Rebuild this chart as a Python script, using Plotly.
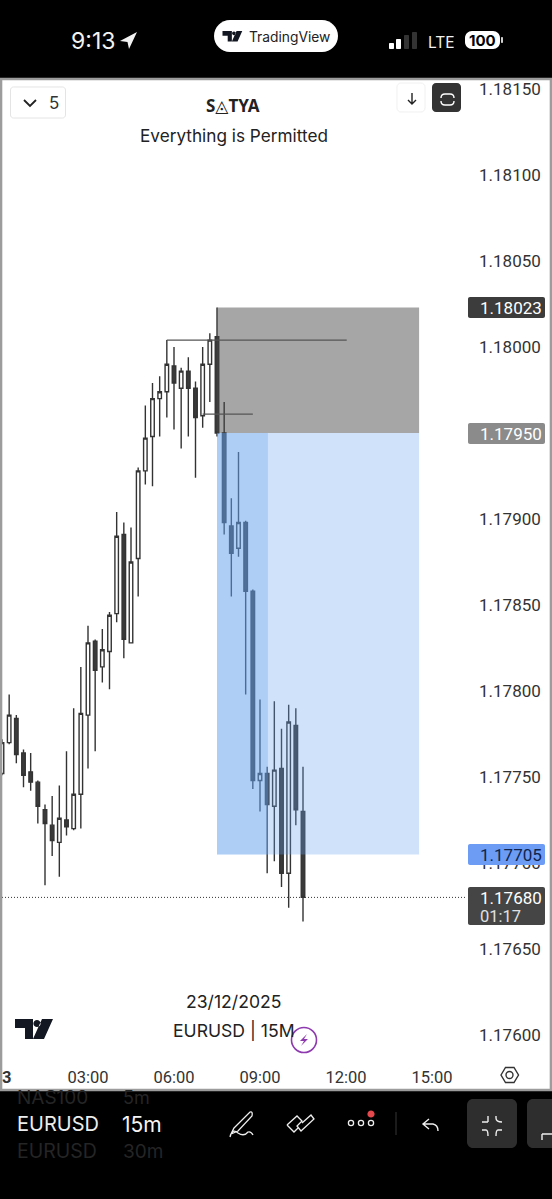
import re
import pandas as pd
import plotly.graph_objects as go

W, H = 552, 1199
# plot area in page pixels
L, R, T, B = 2, 466, 80, 1064

opens = [1.17752, 1.17770, 1.17784, 1.17764, 1.17753, 1.17747, 1.17731, 1.17722, 1.17712, 1.17725, 1.17720,
         1.17740, 1.17786, 1.17829, 1.17814, 1.17823, 1.17845, 1.17891, 1.17828, 1.17877, 1.17928, 1.17948,
         1.17970, 1.17974, 1.17989, 1.17976, 1.17986, 1.17976, 1.17960, 1.17990, 1.18006, 1.17950, 1.17896,
         1.17883, 1.17898, 1.17858, 1.17748, 1.17752, 1.17733, 1.17755, 1.17694, 1.17780, 1.17730]
highs = [1.17772, 1.17798, 1.17786, 1.17766, 1.17764, 1.17748, 1.17734, 1.17739, 1.17745, 1.17765, 1.17790,
         1.17814, 1.17838, 1.17830, 1.17836, 1.17846, 1.17904, 1.17898, 1.17895, 1.17930, 1.17966, 1.17979,
         1.17983, 1.18004, 1.18000, 1.17988, 1.17994, 1.17980, 1.18000, 1.18008, 1.18023, 1.17968, 1.17912,
         1.17939, 1.17899, 1.17859, 1.17795, 1.17756, 1.17794, 1.17778, 1.17792, 1.17790, 1.17756]
lows = [1.17751, 1.17769, 1.17758, 1.17744, 1.17742, 1.17723, 1.17687, 1.17704, 1.17692, 1.17716, 1.17719,
        1.17720, 1.17755, 1.17765, 1.17805, 1.17801, 1.17840, 1.17819, 1.17828, 1.17855, 1.17920, 1.17919,
        1.17948, 1.17959, 1.17952, 1.17941, 1.17948, 1.17924, 1.17953, 1.17968, 1.17948, 1.17891, 1.17855,
        1.17878, 1.17798, 1.17743, 1.17730, 1.17694, 1.17701, 1.17686, 1.17674, 1.17722, 1.17666]
closes = [1.17770, 1.17786, 1.17763, 1.17751, 1.17747, 1.17733, 1.17723, 1.17713, 1.17726, 1.17721, 1.17740,
          1.17787, 1.17828, 1.17812, 1.17824, 1.17844, 1.17890, 1.17830, 1.17875, 1.17928, 1.17947, 1.17970,
          1.17974, 1.17990, 1.17979, 1.17986, 1.17976, 1.17959, 1.17990, 1.18004, 1.17950, 1.17898, 1.17880,
          1.17898, 1.17858, 1.17748, 1.17752, 1.17734, 1.17754, 1.17694, 1.17782, 1.17731, 1.17680]

price_ticks = [1.18150, 1.18100, 1.18050, 1.18000, 1.17950, 1.17900, 1.17850, 1.17800, 1.17750, 1.17700, 1.17650, 1.17600]
time_ticks = ["2025-12-23 00:00", "2025-12-23 03:00", "2025-12-23 06:00", "2025-12-23 09:00", "2025-12-23 12:00", "2025-12-23 15:00"]
time_labels = ["<b>23</b>", "03:00", "06:00", "09:00", "12:00", "15:00"]

entry_price = 1.17950
stop_price = 1.18023
target_price = 1.17705
last_price = 1.17680

START = pd.Timestamp("2025-12-23 00:00")
BAR_PX = 86 / 12


def bar_time(n):
    return START + pd.Timedelta(minutes=15 * n)


bars = [bar_time(i) for i in range(len(opens))]
x_end = bar_time((R - L) / BAR_PX)
# 1.18000 sits at y=347 and 0.0005 is 86px
y_top = 1.18 + (347 - T) / 172000
y_bottom = 1.18 + (347 - B) / 172000


def pg(d):
    # svg path written in page pixels -> paper coords
    out = []
    is_x = True
    for tok in re.findall(r"[MLCQZ]|-?[\d.]+", d):
        if tok in "MLCQZ":
            out.append(tok)
            is_x = True
        else:
            v = float(tok)
            if is_x:
                out.append(f"{(v - L) / (R - L):.5f}")
            else:
                out.append(f"{(B - v) / (B - T):.5f}")
            is_x = not is_x
    return " ".join(out)


def rrect(x0, y0, x1, y1, r=0):
    k = r * 0.45
    return (f"M{x0 + r} {y0} L{x1 - r} {y0} C{x1 - k} {y0} {x1} {y0 + k} {x1} {y0 + r} "
            f"L{x1} {y1 - r} C{x1} {y1 - k} {x1 - k} {y1} {x1 - r} {y1} "
            f"L{x0 + r} {y1} C{x0 + k} {y1} {x0} {y1 - k} {x0} {y1 - r} "
            f"L{x0} {y0 + r} C{x0} {y0 + k} {x0 + k} {y0} {x0 + r} {y0} Z")


def circle(cx, cy, r):
    return rrect(cx - r, cy - r, cx + r, cy + r, r)


def tv_logo(x, y, s):
    return (f"M{x} {y} L{x + 18 * s} {y} L{x + 18 * s} {y + 20 * s} L{x + 10 * s} {y + 20 * s} "
            f"L{x + 10 * s} {y + 9 * s} L{x} {y + 9 * s} Z "
            f"M{x + 27 * s} {y} L{x + 38 * s} {y} L{x + 29 * s} {y + 20 * s} L{x + 18 * s} {y + 20 * s} Z "
            + circle(x + 22 * s, y + 4.5 * s, 3.6 * s))


fig = go.Figure(go.Candlestick(
    x=bars, open=opens, high=highs, low=lows, close=closes,
    increasing=dict(line=dict(color="#333333", width=1.4), fillcolor="#ffffff"),
    decreasing=dict(line=dict(color="#333333", width=1.4), fillcolor="#3a3a3a"),
    whiskerwidth=0,
    showlegend=False,
))


def ui(path, fill=None, line=None, width=1.5, layer="above"):
    fig.add_shape(type="path", path=pg(path), xref="paper", yref="paper", layer=layer,
                  fillcolor=fill if fill else "rgba(0,0,0,0)",
                  line=dict(color=line if line else "rgba(0,0,0,0)", width=width if line else 0))


def txt(x, y, text, size=16, color="#222222", anchor="center", family="Inter"):
    fig.add_annotation(x=(x - L) / (R - L), y=(B - y) / (B - T), xref="paper", yref="paper", text=text,
                       showarrow=False, xanchor=anchor, yanchor="middle", align="left",
                       font=dict(size=size, color=color, family=family), borderpad=0)


# chart panel
ui(rrect(1, 79, 551, 1090), fill="#ffffff", layer="below")

# position tool, over the candles
BLUE = "rgba(100,160,240,0.31)"
fig.add_shape(type="rect", x0=bar_time(30), x1=bar_time(58.2), y0=entry_price, y1=stop_price,
              fillcolor="rgba(70,70,70,0.48)", line_width=0, layer="above")
fig.add_shape(type="rect", x0=bar_time(30), x1=bar_time(58.2), y0=target_price, y1=entry_price,
              fillcolor=BLUE, line_width=0, layer="above")
fig.add_shape(type="rect", x0=bar_time(30), x1=bar_time(37.1), y0=target_price, y1=entry_price,
              fillcolor=BLUE, line_width=0, layer="above")

# drawn level lines and last price line
fig.add_shape(type="line", x0=bar_time(23), x1=bar_time(48.1), y0=1.18004, y1=1.18004,
              line=dict(color="#555555", width=1.2), layer="above")
fig.add_shape(type="line", x0=bar_time(28), x1=bar_time(35), y0=1.17961, y1=1.17961,
              line=dict(color="#555555", width=1.2), layer="above")
fig.add_shape(type="line", x0=START, x1=x_end, y0=last_price, y1=last_price,
              line=dict(color="#333333", width=1, dash="1px,2px"), layer="above")
ui(rrect(1, 79, 551, 1090), line="#9c9c9c", width=2.6)

# price tags
ui(rrect(468, 297, 545, 318, 2), fill="#3c3c3c")
txt(479, 308, "1.18023", 17, "#ffffff", "left", "Roboto")
ui(rrect(468, 423, 545, 444, 2), fill="#8b8b8b")
txt(479, 434, "1.17950", 17, "#ffffff", "left", "Roboto")
ui(rrect(468, 844, 545, 865, 2), fill="#6c9cf3")
txt(479, 855, "1.17705", 17, "#10244d", "left", "Roboto")
ui(rrect(468, 887, 545, 925, 2), fill="#454545")
txt(479, 898, "1.17680", 17, "#ffffff", "left", "Roboto")
txt(479, 916, "01:17", 16.5, "#e0e0e0", "left", "Roboto")

# chart texts
txt(233, 106, "<b>S◬TYA</b>", 17, "#222222", family="Noto Sans, DejaVu Sans")
txt(233.5, 135, "Everything is Permitted", 17.2)
txt(233.5, 1001, "23/12/2025", 17.6)
txt(234, 1031, "EURUSD | 15M", 17.6)

# top chart buttons
ui(rrect(10.5, 87, 65.5, 118, 3), fill="#ffffff", line="#e4e4e4", width=1)
ui("M24 100 L30 106 L36 100", line="#222222", width=1.8)
txt(54, 103, "5", 17, "#333333")
ui(rrect(397, 83, 425, 112, 4), fill="#ffffff", line="#f0f0f0", width=1)
ui("M412 93 L412 104 M408 100 L412 104 L416 100", line="#222222", width=1.4)
ui(rrect(432, 83, 461, 112, 4), fill="#333333")
ui("M441 98 Q441 94 445 94 L450 94 Q454 94 454 98 M441 101 Q441 105 445 105 L450 105 Q454 105 454 101",
   line="#ffffff", width=1.4)

# watermark, purple badge, settings
ui(tv_logo(15, 1019, 1), fill="#131722")
ui(circle(304, 1040, 12.5), fill="#ffffff", line="#8e3aaf", width=1.6)
ui("M307 1034 L300 1041 L304 1041 L301 1046 L308 1039 L304 1039 Z", fill="#8e3aaf")
ui("M501 1075 L505.5 1067.5 L514 1067.5 L518.5 1075 L514 1082.5 L505.5 1082.5 Z", line="#333333", width=1.4)
ui(circle(509.5, 1075, 3.5), line="#333333", width=1.4)

# status bar
txt(70, 41, "9:13", 23, "#f2f2f2", "left")
ui("M137 32 L120 41 L127.5 42 L129 49 Z", fill="#f2f2f2")
ui(rrect(214, 20, 338, 52, 16), fill="#ffffff")
ui(tv_logo(222.5, 31, 0.52), fill="#131722")
txt(248, 36.5, "TradingView", 13.8, "#222222", "left")
ui(rrect(389, 43, 394, 49, 1), fill="#ffffff")
ui(rrect(396, 39, 401, 49, 1), fill="#ffffff")
ui(rrect(404, 35, 409, 49, 1), fill="#333333")
ui(rrect(412, 32, 417, 49, 1), fill="#333333")
txt(427, 42, "LTE", 15.5, "#f2f2f2", "left")
ui(rrect(465, 31, 500, 49, 7), fill="#ffffff")
ui(rrect(501, 37, 503, 43, 1), fill="#cfcfcf")
txt(482.5, 40.5, "<b>100</b>", 15, "#000000")

# bottom toolbar
txt(16, 1097, "NAS100", 19, "#252525", "left")
txt(122, 1097, "5m", 18, "#252525", "left")
txt(16, 1124, "EURUSD", 20, "#ececec", "left")
txt(121, 1124, "15m", 21, "#f5f5f5", "left")
txt(16, 1151, "EURUSD", 19.5, "#252525", "left")
txt(122, 1151, "30m", 19, "#252525", "left")
ui("M234 1128 L250 1112 Q253 1111 252 1116 L238 1131 L231 1134 Z M230 1137 Q232 1128 238 1133 Q244 1137 248 1132 Q251 1131 253 1135",
   line="#eeeeee", width=1.3)
ui("M287 1125 L297 1116 L302 1121 L297 1126 L301 1131 L314 1119 L311 1115 L302 1123 M287 1125 L294 1132 L298 1128",
   line="#eeeeee", width=1.3)
ui(circle(351, 1123, 2.6), line="#eeeeee", width=1.3)
ui(circle(361, 1123, 2.6), line="#eeeeee", width=1.3)
ui(circle(371, 1123, 2.6), line="#eeeeee", width=1.3)
ui(circle(371, 1114, 3.6), fill="#e5484d")
ui("M396 1112 L396 1135", line="#2a2a2a", width=1.3)
ui("M429 1119 L423 1124 L429 1129 M423 1124 L433 1124 Q438 1125 438 1131", line="#eeeeee", width=1.4)
ui(rrect(467, 1099, 517, 1148, 6), fill="#2e2e2e")
ui("M488 1122 L482 1122 M488 1122 Q488 1118 488 1116 M496 1116 L496 1118 Q496 1122 502 1122 "
   "M482 1130 L486 1130 Q488 1130 488 1136 M502 1130 L498 1130 Q496 1130 496 1136", line="#eeeeee", width=1.4)
ui(rrect(527, 1099, 560, 1148, 6), fill="#2e2e2e")
ui("M542 1134 L552 1134 M542 1134 L542 1140", line="#eeeeee", width=1.4)

fig.update_layout(
    width=W, height=H,
    margin=dict(l=L, r=W - R, t=T, b=H - B, pad=0, autoexpand=False),
    paper_bgcolor="#000000",
    plot_bgcolor="#ffffff",
    boxgap=0.3,
    showlegend=False,
    font=dict(family="Roboto", size=17, color="#333333"),
    xaxis=dict(
        type="date",
        range=[START, x_end],
        rangeslider=dict(visible=False),
        showgrid=False, zeroline=False, showline=False,
        tickmode="array", tickvals=time_ticks, ticktext=time_labels,
        tickfont=dict(size=16.5),
        ticks="", ticklabeloverflow="allow", ticklabelstandoff=1,
    ),
    yaxis=dict(
        side="right",
        range=[y_bottom, y_top],
        showgrid=False, zeroline=False, showline=False,
        tickmode="array", tickvals=price_ticks, ticktext=[f"{p:.5f}" for p in price_ticks],
        ticks="", ticklabelstandoff=12,
    ),
)

# drop the browser's default page margin so the figure fills the window
fig.write_html("out.html", config=dict(displayModeBar=False),
               post_script="document.body.style.margin='0';document.documentElement.style.background='#000';")
